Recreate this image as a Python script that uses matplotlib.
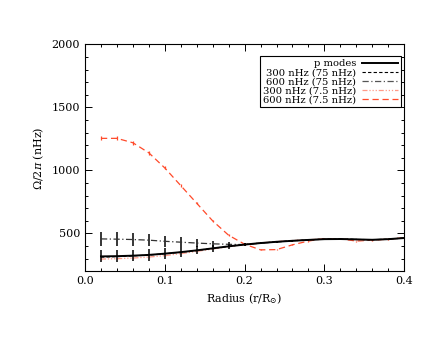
import matplotlib
matplotlib.use('Agg')
import matplotlib.pyplot as plt
from matplotlib.lines import Line2D
from matplotlib.ticker import MultipleLocator

# radius grid (r/Rsun)
radius = [0.02, 0.04, 0.06, 0.08, 0.10, 0.12, 0.14, 0.16, 0.18, 0.20,
          0.22, 0.24, 0.26, 0.28, 0.30, 0.32, 0.34, 0.36, 0.38, 0.40]

# rotation rates in nHz
p_modes = [318, 320, 324, 330, 340, 352, 366, 382, 398, 412,
           424, 434, 442, 449, 455, 456, 453, 450, 455, 464]
p_modes_err = [47, 47, 46, 45, 42, 38, 32, 26, 18, 12,
               9, 7, 6, 5, 5, 4, 4, 4, 4, 4]

g300_75 = [312, 316, 322, 329, 339, 351, 366, 382, 398, 412,
           424, 434, 442, 449, 455, 456, 453, 450, 455, 464]

g600_75 = [457, 455, 452, 447, 438, 431, 424, 418, 414, 412,
           423, 433, 442, 449, 455, 456, 453, 450, 455, 464]
g600_75_err = [55, 55, 53, 50, 46, 40, 33, 26, 18, 12,
               9, 7, 6, 5, 5, 4, 4, 4, 4, 4]

g300_7 = [297, 300, 305, 313, 324, 340, 358, 377, 396, 412,
          425, 436, 444, 450, 458, 457, 450, 447, 455, 465]
g300_7_err = [6, 6, 6, 5, 5, 5, 4, 4, 4, 4,
              3, 3, 3, 3, 3, 3, 3, 3, 3, 3]

g600_7 = [1255, 1255, 1220, 1140, 1020, 880, 740, 600, 486, 415,
          370, 372, 410, 440, 460, 457, 440, 447, 455, 466]
g600_7_err = [16, 16, 15, 14, 12, 10, 9, 8, 7, 6,
              5, 5, 5, 4, 4, 4, 4, 4, 4, 4]

labels = ['p modes', '300 nHz (75 nHz)', '600 nHz (75 nHz)',
          '300 nHz (7.5 nHz)', '600 nHz (7.5 nHz)']

plt.rcParams['font.family'] = ['DejaVu Serif']
plt.rcParams['mathtext.fontset'] = 'dejavuserif'

fig = plt.figure(figsize=(4.36, 3.37), dpi=100)
ax = fig.add_axes([0.195, 0.195, 0.732, 0.673])

red = '#ff4a2a'
pink = '#ff9a88'
styles = [
    dict(color='black', lw=1.4, ls='-'),
    dict(color='black', lw=0.8, ls=(0, (3, 2))),
    dict(color='#555555', lw=0.9, ls=(0, (5, 2, 1, 2))),
    dict(color=pink, lw=0.9, ls=(0, (4, 1.5, 1, 1.5, 1, 1.5, 1, 1.5))),
    dict(color=red, lw=0.9, ls=(0, (5, 3))),
]

ax.errorbar(radius, g600_7, yerr=g600_7_err, elinewidth=0.9, capsize=0,
            zorder=2, **styles[4])
ax.errorbar(radius, g300_7, yerr=g300_7_err, elinewidth=0.9, capsize=0,
            zorder=2, **styles[3])
ax.plot(radius, g300_75, zorder=3, **styles[1])
ax.errorbar(radius, g600_75, yerr=g600_75_err, elinewidth=1.1,
            ecolor='black', capsize=0, zorder=3,
            **dict(styles[2], color='#333333'))
ax.errorbar(radius, p_modes, yerr=p_modes_err, elinewidth=1.1, capsize=0,
            zorder=4, **styles[0])

ax.set_xlim(0.0, 0.4)
ax.set_ylim(200, 2000)
ax.xaxis.set_major_locator(MultipleLocator(0.1))
ax.xaxis.set_minor_locator(MultipleLocator(0.02))
ax.yaxis.set_major_locator(MultipleLocator(500))
ax.yaxis.set_minor_locator(MultipleLocator(100))
ax.tick_params(which='both', direction='in', top=True, right=True,
               labelsize=8, width=0.7)
ax.tick_params(which='major', length=5)
ax.tick_params(which='minor', length=2.5)
ax.set_xticks([0.0, 0.1, 0.2, 0.3, 0.4])
ax.set_xticklabels(['0.0', '0.1', '0.2', '0.3', '0.4'])
ax.set_yticks([500, 1000, 1500, 2000])
for s in ax.spines.values():
    s.set_linewidth(0.8)

ax.set_xlabel(r'Radius (r/R$_{\odot}$)', fontsize=8)
ax.set_ylabel(r'$\Omega$/2$\pi$ (nHz)', fontsize=8)

handles = [Line2D([], [], **st) for st in styles]
leg = ax.legend(handles, labels,
                loc='upper right', bbox_to_anchor=(0.99, 0.948),
                markerfirst=False, fontsize=7.2, frameon=True, fancybox=False,
                edgecolor='black', framealpha=1, handlelength=3.6,
                handletextpad=0.6, labelspacing=0.0, borderpad=0.3,
                borderaxespad=0)
leg.get_frame().set_linewidth(0.8)
for t in leg.get_texts():
    t.set_ha('right')

fig.savefig('out.png', dpi=100)
